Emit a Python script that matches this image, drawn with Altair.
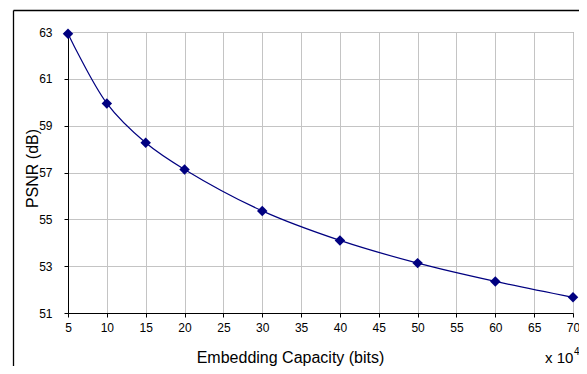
import altair as alt
import pandas as pd

capacity = [5, 10, 15, 20, 30, 40, 50, 60, 70]
psnr = [62.93, 59.95, 58.27, 57.13, 55.36, 54.10, 53.13, 52.35, 51.67]
x_ticks = [5, 10, 15, 20, 25, 30, 35, 40, 45, 50, 55, 60, 65, 70]
y_ticks = [51, 53, 55, 57, 59, 61, 63]

df = pd.DataFrame({"cap": capacity, "psnr": psnr})
FONT = "Liberation Sans"
NAVY = "#000080"

x_enc = alt.X(
    "cap:Q",
    scale=alt.Scale(domain=[5, 70], nice=False, zero=False),
    axis=alt.Axis(
        values=x_ticks, title="Embedding Capacity (bits)", titleX=222, titleY=49,
        titleAlign="center", titleBaseline="alphabetic",
        labelPadding=5, labelOverlap=False,
    ),
)
y_enc = alt.Y(
    "psnr:Q",
    scale=alt.Scale(domain=[51, 63], nice=False, zero=False),
    axis=alt.Axis(
        values=y_ticks, title="PSNR (dB)", titleX=-31, titleY=136,
        titleAngle=-90, titleAlign="center", titleBaseline="alphabetic",
        labelPadding=12, labelOverlap=False,
    ),
)

base = alt.Chart(df).encode(x=x_enc, y=y_enc)
line = base.mark_line(color=NAVY, strokeWidth=1.2, interpolate="catmull-rom")
pts = base.mark_point(shape="diamond", filled=True, color=NAVY, size=110, opacity=1)

one = pd.DataFrame({"a": [0]})
frame_left = alt.Chart(one).mark_rule(color="black", strokeWidth=1.3).encode(
    x=alt.value(-54.5), y=alt.value(-21.5), y2=alt.value(400)
)
frame_top = alt.Chart(one).mark_rule(color="black", strokeWidth=1.3).encode(
    x=alt.value(-54.5), x2=alt.value(600), y=alt.value(-21.5)
)

mult = alt.Chart(pd.DataFrame({"t": ["x 10"]})).mark_text(
    font=FONT, fontSize=15, align="left", baseline="alphabetic", color="black"
).encode(x=alt.value(477), y=alt.value(331), text="t:N")

sup = alt.Chart(pd.DataFrame({"t": ["4"]})).mark_text(
    font=FONT, fontSize=10, align="left", baseline="alphabetic", color="black"
).encode(x=alt.value(506), y=alt.value(323), text="t:N")

chart = alt.layer(line, pts, frame_left, frame_top, mult, sup).properties(
    width=505, height=281,
    background="white",
    autosize=alt.AutoSizeParams(type="none"),
    padding={"left": 60, "top": 24, "right": 6, "bottom": 53},
).configure_view(
    stroke="#808080", strokeWidth=1
).configure_axis(
    labelFont=FONT, labelFontSize=12, labelColor="black", labelOverlap=False,
    labelFlush=False, titleFont=FONT, titleFontSize=16, titleFontWeight="normal",
    titleColor="black", tickSize=4, tickColor="black", domainColor="black",
    gridColor="#c4c4c4",
)

chart.save("out.html", embed_options={"renderer": "svg", "actions": False})
